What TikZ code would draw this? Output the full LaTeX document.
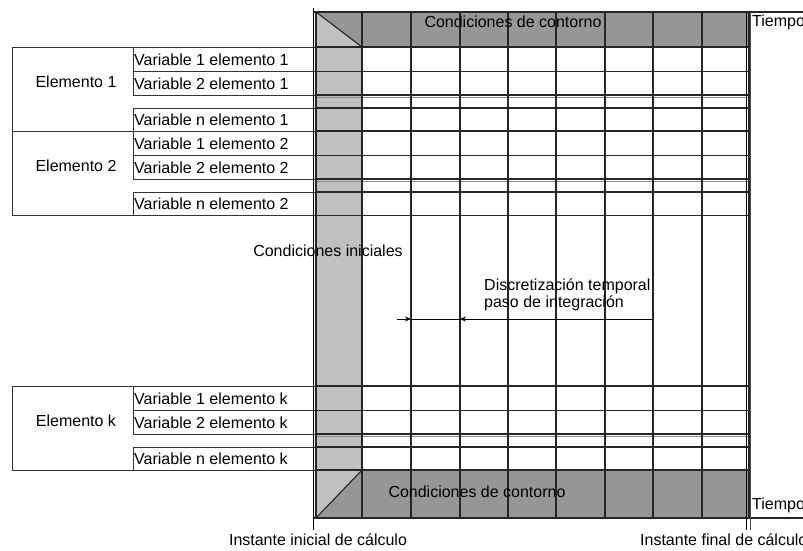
\documentclass[tikz,border=0pt]{standalone}
\usepackage{fontspec}
\setmainfont{Liberation Sans}
\usetikzlibrary{positioning,arrows.meta,calc}
\definecolor{bandgray}{HTML}{969696}
\definecolor{colgray}{HTML}{C0C0C0}
\tikzset{
  lbl/.style={font=\fontsize{16}{16.5}\selectfont, inner sep=0pt},
  boxline/.style={draw, line width=0.9pt, black!80},
  gridline/.style={line width=1.1pt, black!85},
}

\begin{document}
\begin{tikzpicture}[x=1pt,y=-1pt]
  \useasboundingbox (0,0) rectangle (803,550);
  % shaded column and bands
  \fill[colgray] (316,12) rectangle (362,518);
  \fill[bandgray] (316,12) -- (362,47) -- (749,47) -- (749,12) -- cycle;
  \fill[bandgray] (316,518) -- (362,470) -- (749,470) -- (749,518) -- cycle;
  \draw[gridline] (316,12) -- (362,47);
  \draw[gridline] (316,518) -- (362,470);
  % element blocks
  \foreach \t/\k in {47/1,131/2,386/k} {
    \draw[boxline] (12,\t) rectangle (316,\t+84.5);
    \node[lbl] (elem-\k) at (76,\t+35) {Elemento \k};
    \draw[boxline] (133,\t) rectangle (316,\t+24.5);
    \draw[boxline] (133,\t+24.5) rectangle (316,\t+48);
    \draw[boxline] (133,\t+61) rectangle (316,\t+84.5);
    \node[lbl, anchor=west] (var1-\k) at (134,\t+12.5) {Variable 1 elemento \k};
    \node[lbl, anchor=west] (var2-\k) at (134,\t+36.5) {Variable 2 elemento \k};
    \node[lbl, anchor=west] (varn-\k) at (134,\t+73) {Variable n elemento \k};
    \foreach \d in {0,24.5,48,61,84.5}
      \draw[gridline] (316,\t+\d) -- (749,\t+\d);
    \draw[line width=0.8pt, black!45] (316,\t+50.5) -- (749,\t+50.5);
  }
  \draw[gridline] (316,47) -- (749,47);
  \draw[gridline] (316,470) -- (749,470);
  % time columns
  \foreach \x in {316,362,411,460,508,556,605,653,702,749}
    \draw[gridline] (\x,12) -- (\x,518);
  % time axes
  \draw[gridline] (313,518) -- (807,518);
  \draw[gridline] (313,12) -- (807,12);
  \draw[line width=1pt] (313,8) -- (313,530);
  \draw[line width=1pt] (746.5,12) -- (746.5,530);
  \draw[line width=1pt, black!70] (750,12) -- (750,530);
  % labels
  \node[lbl] (cc-top) at (513,22) {Condiciones de contorno};
  \node[lbl, anchor=west] (t-top) at (752,22) {Tiempo};
  \node[lbl] (cc-bot) at (477,492) {Condiciones de contorno};
  \node[lbl, anchor=west] (t-bot) at (752,505) {Tiempo};
  \node[lbl] (cond-ini) at (328,251) {Condiciones iniciales};
  \node[lbl, anchor=north west, align=left] (discr) at (484,279)
    {Discretización temporal\\paso de integración};
  \node[lbl] (inst-ini) at (318,540) {Instante inicial de cálculo};
  \node[lbl, anchor=west] (inst-fin) at (640,540) {Instante final de cálculo};
  % step mark
  \coordinate (dimL) at (397,319);
  \coordinate (stepA) at (411,319);
  \coordinate (stepB) at (460,319);
  \coordinate (dimR) at (652,319);
  \draw[line width=0.8pt, -{Stealth[length=6pt,width=5pt]}] (dimL) -- (stepA);
  \draw[line width=0.8pt] (stepA) -- (stepB);
  \draw[line width=0.8pt, -{Stealth[length=6pt,width=5pt]}] (dimR) -- (stepB);
\end{tikzpicture}
\end{document}
